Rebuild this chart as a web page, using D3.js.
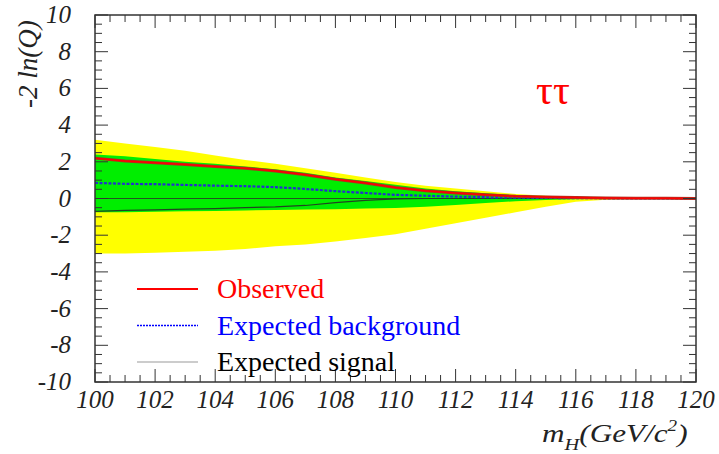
<!DOCTYPE html>
<html lang="en">
<head>
    <meta charset="UTF-8">
    <title>-2 ln(Q) tau tau</title>
    <script src="https://d3js.org/d3.v7.min.js"></script>
    <style>
        body { margin: 0; background: #fff; }
        svg { display: block; }
        text { font-family: "Times New Roman", "Liberation Serif", "DejaVu Serif", serif; }
        .tick-label { font-style: italic; font-size: 25px; fill: #222; }
        .legend-text { font-size: 28px; }
    </style>
</head>
<body>
<div id="chart"></div>
<script>
    // masses (GeV/c^2)
    const masses = [100, 101, 102, 103, 104, 105, 106, 107, 108, 109, 110,
                    111, 112, 113, 114, 115, 116, 117, 118, 119, 120];

    const observed = [2.2, 2.05, 1.95, 1.85, 1.75, 1.65, 1.5, 1.3, 1.05, 0.85, 0.6,
                      0.42, 0.3, 0.2, 0.12, 0.08, 0.05, 0.03, 0.02, 0.01, 0];
    const expBackground = [0.85, 0.8, 0.78, 0.74, 0.7, 0.67, 0.62, 0.52, 0.4, 0.3, 0.2,
                           0.15, 0.1, 0.07, 0.05, 0.03, 0.02, 0.01, 0, 0, 0];
    const expSignal = [-0.7, -0.65, -0.62, -0.58, -0.55, -0.5, -0.46, -0.38, -0.22, -0.1, -0.02,
                       0, 0, 0, 0, 0, 0, 0, 0, 0, 0];

    const band2Up = [3.2, 3.0, 2.8, 2.6, 2.35, 2.1, 1.9, 1.65, 1.4, 1.15, 0.9,
                     0.7, 0.55, 0.4, 0.25, 0.15, 0.08, 0.04, 0.02, 0.01, 0];
    const band2Down = [-3.0, -3.0, -2.95, -2.9, -2.85, -2.75, -2.6, -2.5, -2.35, -2.15, -1.95,
                       -1.65, -1.35, -1.05, -0.75, -0.45, -0.18, -0.07, -0.03, -0.01, 0];
    const band1Up = [2.4, 2.3, 2.15, 2.0, 1.9, 1.75, 1.6, 1.4, 1.15, 0.95, 0.75,
                     0.55, 0.4, 0.28, 0.18, 0.1, 0.05, 0.02, 0.01, 0, 0];
    const band1Down = [-0.75, -0.75, -0.72, -0.7, -0.68, -0.65, -0.62, -0.6, -0.58, -0.55, -0.52,
                       -0.45, -0.35, -0.25, -0.15, -0.08, -0.04, -0.02, -0.01, 0, 0];

    const xTicks = [100, 102, 104, 106, 108, 110, 112, 114, 116, 118, 120];
    const yTicks = [-10, -8, -6, -4, -2, 0, 2, 4, 6, 8, 10];

    const legendItems = [
        {label: "Observed", color: "#ff0000", text: "#ff0000", dash: null, width: 2},
        {label: "Expected background", color: "#0000ff", text: "#0000ff", dash: "2,1", width: 1.5},
        {label: "Expected signal", color: "#999999", text: "#000000", dash: null, width: 1}
    ];

    const W = 719, H = 454;
    const margin = {top: 15, right: 23, bottom: 72, left: 95};
    const width = W - margin.left - margin.right;
    const height = H - margin.top - margin.bottom;

    const svg = d3.select("#chart").append("svg")
        .attr("width", W)
        .attr("height", H);

    const g = svg.append("g")
        .attr("transform", `translate(${margin.left},${margin.top})`);

    const x = d3.scaleLinear().domain([100, 120]).range([0, width]);
    const y = d3.scaleLinear().domain([-10, 10]).range([height, 0]);

    const idx = d3.range(masses.length);

    const area = (up, down) => d3.area()
        .x(i => x(masses[i]))
        .y0(i => y(down[i]))
        .y1(i => y(up[i]));

    // bands
    g.append("path").datum(idx).attr("fill", "#ffff00").attr("d", area(band2Up, band2Down));
    g.append("path").datum(idx).attr("fill", "#00ee00").attr("d", area(band1Up, band1Down));

    // zero line
    g.append("line")
        .attr("x1", 0).attr("x2", width)
        .attr("y1", y(0)).attr("y2", y(0))
        .attr("stroke", "#225522").attr("stroke-width", 1);

    const line = vals => d3.line()
        .x(i => x(masses[i]))
        .y(i => y(vals[i]));

    g.append("path").datum(idx)
        .attr("fill", "none").attr("stroke", "#224422").attr("stroke-width", 1.2)
        .attr("d", line(expSignal));

    g.append("path").datum(idx)
        .attr("fill", "none").attr("stroke", "#2233cc").attr("stroke-width", 2.2)
        .attr("stroke-dasharray", "3,1.5")
        .attr("d", line(expBackground));

    g.append("path").datum(idx)
        .attr("fill", "none").attr("stroke", "#aa3322").attr("stroke-width", 3)
        .attr("d", line(observed));
    g.append("path").datum(idx)
        .attr("fill", "none").attr("stroke", "#ff0000").attr("stroke-width", 1.5)
        .attr("d", line(observed));

    // frame
    const frameColor = "#333";
    g.append("rect")
        .attr("width", width).attr("height", height)
        .attr("fill", "none").attr("stroke", frameColor).attr("stroke-width", 1.5);

    // ticks: major every 2, minor every 0.5
    const xMinor = d3.range(100, 120.01, 0.5);
    const yMinor = d3.range(-10, 10.01, 0.5);
    const isMajor = v => Math.abs(v / 2 - Math.round(v / 2)) < 1e-6;

    xMinor.forEach(v => {
        const len = isMajor(v) ? 13 : 7;
        g.append("line").attr("x1", x(v)).attr("x2", x(v))
            .attr("y1", height).attr("y2", height - len)
            .attr("stroke", frameColor).attr("stroke-width", 1);
        g.append("line").attr("x1", x(v)).attr("x2", x(v))
            .attr("y1", 0).attr("y2", len)
            .attr("stroke", frameColor).attr("stroke-width", 1);
    });
    yMinor.forEach(v => {
        const len = isMajor(v) ? 13 : 7;
        g.append("line").attr("x1", 0).attr("x2", len)
            .attr("y1", y(v)).attr("y2", y(v))
            .attr("stroke", frameColor).attr("stroke-width", 1);
        g.append("line").attr("x1", width).attr("x2", width - len)
            .attr("y1", y(v)).attr("y2", y(v))
            .attr("stroke", frameColor).attr("stroke-width", 1);
    });

    // tick labels
    g.selectAll(".xl").data(xTicks).enter().append("text")
        .attr("class", "tick-label")
        .attr("x", d => x(d))
        .attr("y", height + 26)
        .attr("text-anchor", "middle")
        .text(d => d);

    g.selectAll(".yl").data(yTicks).enter().append("text")
        .attr("class", "tick-label")
        .attr("x", -24)
        .attr("y", d => y(d) + 8)
        .attr("text-anchor", "end")
        .text(d => d);

    // axis titles
    svg.append("text")
        .attr("class", "tick-label")
        .attr("transform", "translate(37,108) rotate(-90)")
        .attr("text-anchor", "start")
        .style("font-size", "27px")
        .text("-2 ln(Q)");

    const xt = svg.append("text")
        .attr("class", "tick-label")
        .attr("transform", "translate(542,442) scale(1.2,1)")
        .style("font-size", "26px");
    xt.append("tspan").text("m");
    xt.append("tspan").attr("dy", 8).style("font-size", "17px").text("H");
    xt.append("tspan").attr("dy", -8).text("(GeV/c");
    xt.append("tspan").attr("dy", -11).style("font-size", "16px").text("2");
    xt.append("tspan").attr("dy", 11).text(")");

    // channel label
    svg.append("text")
        .attr("x", 553).attr("y", 104)
        .attr("text-anchor", "middle")
        .style("font-size", "42px")
        .attr("fill", "#ff0000")
        .text("ττ");

    // legend
    const legend = svg.append("g");
    legendItems.forEach((d, i) => {
        const ly = 289 + i * 36.5;
        legend.append("line")
            .attr("x1", 137).attr("x2", 198)
            .attr("y1", ly).attr("y2", ly)
            .attr("stroke", d.color).attr("stroke-width", d.width)
            .attr("stroke-dasharray", d.dash);
        legend.append("text")
            .attr("class", "legend-text")
            .attr("x", 217).attr("y", ly + 9)
            .attr("fill", d.text)
            .text(d.label);
    });
</script>
</body>
</html>
